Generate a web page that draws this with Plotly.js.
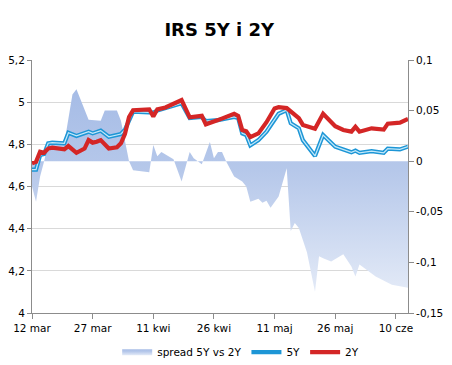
<!DOCTYPE html>
<html>
<head>
<meta charset="utf-8">
<script src="https://cdn.plot.ly/plotly-3.0.1.min.js"></script>
<style>html,body{margin:0;padding:0;background:#fff;}#chart{width:452px;height:365px;}</style>
</head>
<body>
<div id="chart"></div>
<script>
// 2Y series (vertices)
const dates2Y = ['2012-03-12','2012-03-13','2012-03-14','2012-03-15','2012-03-16','2012-03-17','2012-03-20','2012-03-21','2012-03-23','2012-03-25','2012-03-26','2012-03-27','2012-03-28','2012-03-29','2012-03-31','2012-04-02','2012-04-03','2012-04-04','2012-04-05','2012-04-06','2012-04-10','2012-04-11','2012-04-12','2012-04-14','2012-04-18','2012-04-20','2012-04-23','2012-04-24','2012-04-27','2012-05-01','2012-05-02','2012-05-03','2012-05-04','2012-05-05','2012-05-07','2012-05-09','2012-05-11','2012-05-12','2012-05-14','2012-05-16','2012-05-17','2012-05-18','2012-05-21','2012-05-23','2012-05-26','2012-05-28','2012-05-30','2012-05-31','2012-06-01','2012-06-04','2012-06-07','2012-06-08','2012-06-11','2012-06-13'];
const values2Y = [4.710,4.717,4.765,4.760,4.780,4.784,4.776,4.792,4.760,4.780,4.820,4.808,4.812,4.820,4.780,4.786,4.805,4.850,4.930,4.962,4.966,4.932,4.966,4.975,5.010,4.928,4.935,4.895,4.915,4.945,4.935,4.868,4.862,4.834,4.852,4.905,4.970,4.976,4.972,4.940,4.924,4.892,4.874,4.945,4.886,4.868,4.860,4.883,4.860,4.876,4.870,4.898,4.903,4.920];

// 5Y series
const dates5Y = ['2012-03-12','2012-03-13','2012-03-14','2012-03-15','2012-03-16','2012-03-17','2012-03-20','2012-03-21','2012-03-23','2012-03-25','2012-03-26','2012-03-27','2012-03-29','2012-03-31','2012-04-03','2012-04-04','2012-04-05','2012-04-06','2012-04-10','2012-04-11','2012-04-12','2012-04-14','2012-04-18','2012-04-20','2012-04-23','2012-04-24','2012-04-27','2012-05-01','2012-05-02','2012-05-03','2012-05-04','2012-05-05','2012-05-07','2012-05-09','2012-05-10','2012-05-12','2012-05-14','2012-05-15','2012-05-17','2012-05-18','2012-05-21','2012-05-23','2012-05-26','2012-05-28','2012-05-30','2012-05-31','2012-06-01','2012-06-04','2012-06-07','2012-06-08','2012-06-11','2012-06-13'];
const values5Y = [4.680,4.680,4.749,4.754,4.805,4.808,4.805,4.855,4.840,4.855,4.860,4.852,4.865,4.836,4.849,4.870,4.916,4.955,4.952,4.950,4.960,4.970,4.995,4.925,4.930,4.910,4.915,4.930,4.925,4.852,4.844,4.795,4.820,4.860,4.890,4.945,4.962,4.900,4.876,4.820,4.745,4.844,4.789,4.776,4.762,4.770,4.760,4.768,4.760,4.780,4.776,4.789];

// spread 5Y vs 2Y (right axis)
const datesSpread = ['2012-03-12','2012-03-13','2012-03-14','2012-03-15','2012-03-16','2012-03-17','2012-03-20','2012-03-22','2012-03-23','2012-03-26','2012-03-29','2012-03-30','2012-04-02','2012-04-03','2012-04-04','2012-04-05','2012-04-06','2012-04-10','2012-04-11','2012-04-12','2012-04-13','2012-04-16','2012-04-18','2012-04-20','2012-04-21','2012-04-23','2012-04-25','2012-04-26','2012-04-27','2012-04-28','2012-04-29','2012-05-01','2012-05-03','2012-05-04','2012-05-05','2012-05-07','2012-05-08','2012-05-09','2012-05-10','2012-05-12','2012-05-14','2012-05-15','2012-05-16','2012-05-17','2012-05-19','2012-05-21','2012-05-22','2012-05-23','2012-05-25','2012-05-28','2012-05-30','2012-05-31','2012-06-01','2012-06-05','2012-06-09','2012-06-13'];
const valuesSpread = [-0.025,-0.040,-0.015,0.000,0.018,0.020,0.018,0.066,0.071,0.041,0.040,0.050,0.050,0.040,0.020,0.000,-0.009,-0.011,0.016,0.005,0.009,0.002,-0.020,0.009,0.003,-0.003,0.019,0.003,0.009,0.009,0.000,-0.015,-0.020,-0.025,-0.040,-0.037,-0.041,-0.039,-0.046,-0.035,-0.007,-0.069,-0.061,-0.066,-0.090,-0.129,-0.094,-0.096,-0.099,-0.092,-0.104,-0.114,-0.102,-0.114,-0.122,-0.125];

// axis labels
const xTickVals = ['2012-03-12','2012-03-27','2012-04-11','2012-04-26','2012-05-11','2012-05-26','2012-06-10'];
const xTickText = ['12 mar','27 mar','11 kwi','26 kwi','11 maj','26 maj','10 cze'];
const rightTickVals = [0.1,0.05,0,-0.05,-0.1,-0.15];
const rightTickText = ['0,1','0,05','0','-0,05','-0,1','-0,15'];
const seriesNames = ['spread 5Y vs 2Y','5Y','2Y'];

const FONT = 'DejaVu Sans, Verdana, sans-serif';

const traces = [
  {
    x: datesSpread, y: valuesSpread, name: seriesNames[0], type: 'scatter', mode: 'none',
    fill: 'tozeroy', fillcolor: '#b3c6ea',
    fillgradient: {type: 'vertical', start: -0.13, stop: 0.07,
      colorscale: [[0, '#e3eaf7'], [0.6, '#b6c8ea'], [1, '#a6bce6']]},
    xaxis: 'x', yaxis: 'y', hoverinfo: 'skip'
  },
  {
    x: dates5Y, y: values5Y, name: seriesNames[1], type: 'scatter', mode: 'lines',
    line: {color: '#1d96d6', width: 4.2}, xaxis: 'x', yaxis: 'y2', legendgroup: 'g5'
  },
  {
    x: dates5Y, y: values5Y, name: seriesNames[1], type: 'scatter', mode: 'lines',
    line: {color: '#c4e9fa', width: 1.2}, xaxis: 'x', yaxis: 'y2', legendgroup: 'g5', showlegend: false
  },
  {
    x: dates2Y, y: values2Y, name: seriesNames[2], type: 'scatter', mode: 'lines',
    line: {color: '#d42626', width: 4.2}, xaxis: 'x', yaxis: 'y2'
  }
];

const layout = {
  width: 452, height: 365,
  paper_bgcolor: '#ffffff', plot_bgcolor: '#ffffff',
  margin: {l: 32, r: 44, t: 60, b: 52, autoexpand: false},
  separators: ', ',
  font: {family: FONT, size: 10.5, color: '#000'},
  title: {text: 'IRS 5Y i 2Y', font: {family: FONT, size: 18, color: '#000', weight: 'bold'},
          x: 0.485, xanchor: 'center', y: 0.92, yanchor: 'middle', xref: 'container', yref: 'container'},
  showlegend: true,
  legend: {orientation: 'h', x: 0.555, xanchor: 'center', y: -0.155, yanchor: 'middle',
           font: {family: FONT, size: 10.5, color: '#000'}, itemwidth: 30, traceorder: 'normal',
           bgcolor: 'rgba(0,0,0,0)'},
  xaxis: {
    type: 'date', range: ['2012-03-12', '2012-06-13'],
    tickvals: xTickVals, ticktext: xTickText,
    showgrid: false, zeroline: false, showline: true, linecolor: '#8c8c8c', linewidth: 1,
    ticks: 'outside', ticklen: 5, tickcolor: '#8c8c8c', tickfont: {family: FONT, size: 10.5, color: '#000'}
  },
  yaxis: {
    side: 'right', range: [-0.15, 0.1], tickvals: rightTickVals, ticktext: rightTickText,
    showgrid: false, zeroline: false, showline: true, linecolor: '#8c8c8c', linewidth: 1,
    ticks: 'outside', ticklen: 5, tickcolor: '#8c8c8c', tickfont: {family: FONT, size: 10.5, color: '#000'}
  },
  yaxis2: {
    side: 'left', overlaying: 'y', range: [4, 5.2], dtick: 0.2, tick0: 4,
    showgrid: true, gridcolor: '#d9d9d9', gridwidth: 1, zeroline: false,
    showline: true, linecolor: '#8c8c8c', linewidth: 1,
    ticks: 'outside', ticklen: 4, tickcolor: '#8c8c8c', tickfont: {family: FONT, size: 10.5, color: '#000'}
  }
};

Plotly.newPlot('chart', traces, layout, {displayModeBar: false, staticPlot: true});
</script>
</body>
</html>
